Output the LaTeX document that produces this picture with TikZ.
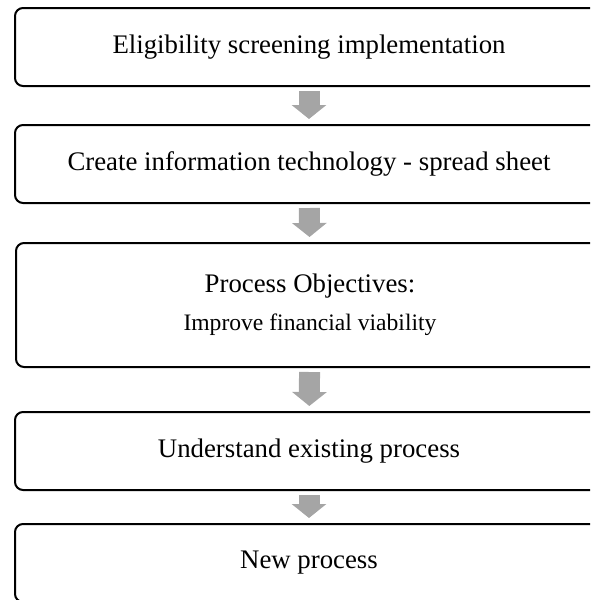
\documentclass[tikz,border=0pt]{standalone}
\usepackage{fontspec}
\setmainfont{Liberation Serif}
\usetikzlibrary{arrows.meta}
\definecolor{arrowgray}{HTML}{A5A5A5}

\begin{document}
\begin{tikzpicture}[x=.5pt, y=-.5pt,
  stepbox/.style={draw, rectangle, rounded corners=4pt, line width=1pt, minimum width=294pt, minimum height=39pt, align=center, font=\fontsize{13.4}{16}\selectfont},
  flow/.style={draw=arrowgray, line width=10.5pt, -{Triangle[width=17pt, length=7pt]}, shorten <=2pt, shorten >=2.5pt}]
\clip (0,0) rectangle (590,600);
\useasboundingbox (0,0) rectangle (590,600);
\node[stepbox] (elig) at (309,47){Eligibility screening implementation};
\node[stepbox] (sheet) at (309,164){Create information technology - spread sheet};
\node[stepbox, minimum height=62pt] (obj) at (310,305){Process Objectives:\\[3pt]{\fontsize{11.8}{14}\selectfont Improve financial viability}};
\node[stepbox] (exist) at (309,451){Understand existing process};
\node[stepbox] (new) at (309,563){New process};
\draw[flow] (elig) -- (sheet);
\draw[flow] (sheet) -- (obj);
\draw[flow] (obj) -- (exist);
\draw[flow] (exist) -- (new);
\end{tikzpicture}
\end{document}
